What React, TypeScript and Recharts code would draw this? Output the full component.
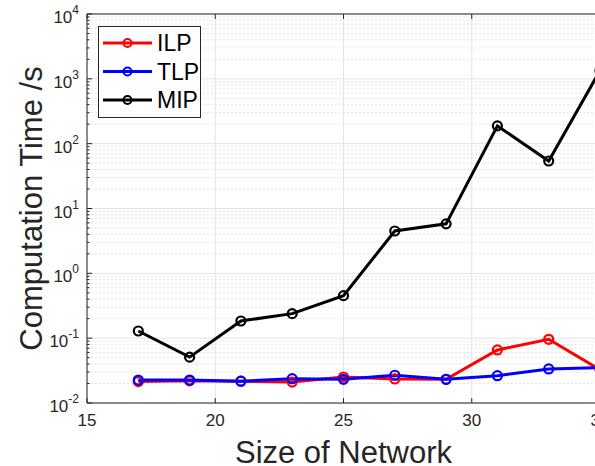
import React from 'react';
import { LineChart, Line, XAxis, YAxis, CartesianGrid, ReferenceLine, Legend } from 'recharts';

const networkSizes = [17, 19, 21, 23, 25, 27, 29, 31, 33, 35];
const ilpTimes = [0.0214, 0.022, 0.0217, 0.021, 0.0252, 0.0235, 0.0232, 0.0658, 0.096, 0.0325];
const tlpTimes = [0.0226, 0.0226, 0.0217, 0.0237, 0.0232, 0.0268, 0.0232, 0.0264, 0.0335, 0.035];
const mipTimes = [0.129, 0.051, 0.184, 0.239, 0.453, 4.5, 5.8, 188, 54, 1340];

const xTicks = [15, 20, 25, 30, 35];
const yTicks = [0.01, 0.1, 1, 10, 100, 1000, 10000];
const yExponents = ['-2', '-1', '0', '1', '2', '3', '4'];

const seriesNames = ['ILP', 'TLP', 'MIP'];
const seriesColors = ['#ff0000', '#0000ff', '#000000'];

const FONT = '"Liberation Sans", Arial, Helvetica, sans-serif';
const TEXT = '#262626';

const data = networkSizes.map((n, i) => ({
  n,
  ILP: ilpTimes[i],
  TLP: tlpTimes[i],
  MIP: mipTimes[i],
}));

const minorValues: number[] = [];
for (let d = 0; d < yTicks.length - 1; d++) {
  for (let k = 2; k <= 9; k++) minorValues.push(yTicks[d] * k);
}

const YTick = (props: any) => {
  const { x, y, payload } = props;
  const idx = yTicks.indexOf(payload.value);
  const exp = idx >= 0 ? yExponents[idx] : '';
  return (
    <text x={x} y={y + 9} textAnchor="end" fill={TEXT} fontFamily={FONT} fontSize={17}>
      <tspan>10</tspan>
      <tspan dy={-9} fontSize={12}>{exp}</tspan>
    </text>
  );
};

const XTick = (props: any) => {
  const { x, y, payload } = props;
  return (
    <text x={x} y={y} dy={11} textAnchor="middle" fill={TEXT} fontFamily={FONT} fontSize={17}>
      {payload.value}
    </text>
  );
};

const LegendBox = () => (
  <svg width={103} height={92} style={{ display: 'block' }}>
    <rect x={0.5} y={0.5} width={102} height={91} fill="#ffffff" stroke={TEXT} strokeWidth={1} />
    {seriesNames.map((name, i) => {
      const cy = 17 + i * 28.5;
      return (
        <g key={name}>
          <line x1={5} y1={cy} x2={54} y2={cy} stroke={seriesColors[i]} strokeWidth={3} />
          <circle cx={29.5} cy={cy} r={4} fill="none" stroke={seriesColors[i]} strokeWidth={2} />
          <text x={59} y={cy + 8} fill="#000" fontFamily={FONT} fontSize={23}>{name}</text>
        </g>
      );
    })}
  </svg>
);

const YLabel = (props: any) => {
  const { viewBox } = props;
  const cx = 42;
  const cy = viewBox.y + viewBox.height / 2;
  return (
    <text
      x={cx}
      y={cy}
      transform={`rotate(-90, ${cx}, ${cy})`}
      textAnchor="middle"
      fill={TEXT}
      fontFamily={FONT}
      fontSize={31}
    >
      Computation Time /s
    </text>
  );
};

const XLabel = (props: any) => {
  const { viewBox } = props;
  const cx = viewBox.x + viewBox.width / 2;
  return (
    <text x={cx} y={463} textAnchor="middle" fill={TEXT} fontFamily={FONT} fontSize={31}>
      Size of Network
    </text>
  );
};

export default function App() {
  return (
    <div
      style={{
        position: 'fixed',
        left: 0,
        top: 0,
        width: 595,
        height: 466,
        overflow: 'hidden',
        background: '#ffffff',
      }}
    >
      <LineChart
        width={620}
        height={466}
        data={data}
        margin={{ top: 14, right: 20, bottom: 0, left: 0 }}
      >
        <CartesianGrid stroke="#e3e3e3" strokeWidth={1} />
        {minorValues.map((v) => (
          <ReferenceLine key={'m' + v} y={v} stroke="#e3e3e3" strokeDasharray="2 2" strokeWidth={1} />
        ))}
        <XAxis
          dataKey="n"
          type="number"
          domain={[15, 35]}
          ticks={xTicks}
          allowDataOverflow
          height={63}
          tickSize={0}
          tickMargin={12}
          tickLine={false}
          tick={<XTick />}
          axisLine={{ stroke: TEXT, strokeWidth: 1 }}
          label={<XLabel />}
        />
        <YAxis
          type="number"
          scale="log"
          domain={[0.01, 10000]}
          ticks={yTicks}
          allowDataOverflow
          width={87}
          tickSize={0}
          tickMargin={8}
          tickLine={false}
          tick={<YTick />}
          axisLine={{ stroke: TEXT, strokeWidth: 1 }}
          label={<YLabel />}
        />
        <ReferenceLine y={10000} stroke={TEXT} strokeWidth={1} ifOverflow="visible" />
        {yTicks.map((v) => (
          <ReferenceLine
            key={'yt' + v}
            segment={[{ x: 15, y: v }, { x: 15.2, y: v }]}
            stroke={TEXT}
            strokeWidth={1}
            ifOverflow="visible"
          />
        ))}
        {minorValues.map((v) => (
          <ReferenceLine
            key={'ymt' + v}
            segment={[{ x: 15, y: v }, { x: 15.1, y: v }]}
            stroke={TEXT}
            strokeWidth={1}
            ifOverflow="visible"
          />
        ))}
        {xTicks.map((t) => (
          <ReferenceLine
            key={'xb' + t}
            segment={[{ x: t, y: 0.01 }, { x: t, y: 0.0119 }]}
            stroke={TEXT}
            strokeWidth={1}
            ifOverflow="visible"
          />
        ))}
        {xTicks.map((t) => (
          <ReferenceLine
            key={'xt' + t}
            segment={[{ x: t, y: 10000 }, { x: t, y: 8400 }]}
            stroke={TEXT}
            strokeWidth={1}
            ifOverflow="visible"
          />
        ))}
        {seriesNames.map((name, i) => (
          <Line
            key={name}
            dataKey={name}
            name={name}
            stroke={seriesColors[i]}
            strokeWidth={3}
            dot={{ r: 4.5, strokeWidth: 2.2, fill: 'none', stroke: seriesColors[i] }}
            activeDot={false}
            isAnimationActive={false}
          />
        ))}
        <Legend
          layout="vertical"
          align="center"
          verticalAlign="middle"
          content={<LegendBox />}
          wrapperStyle={{ position: 'absolute', left: 98, top: 26, width: 103, height: 92 }}
        />
      </LineChart>
    </div>
  );
}
